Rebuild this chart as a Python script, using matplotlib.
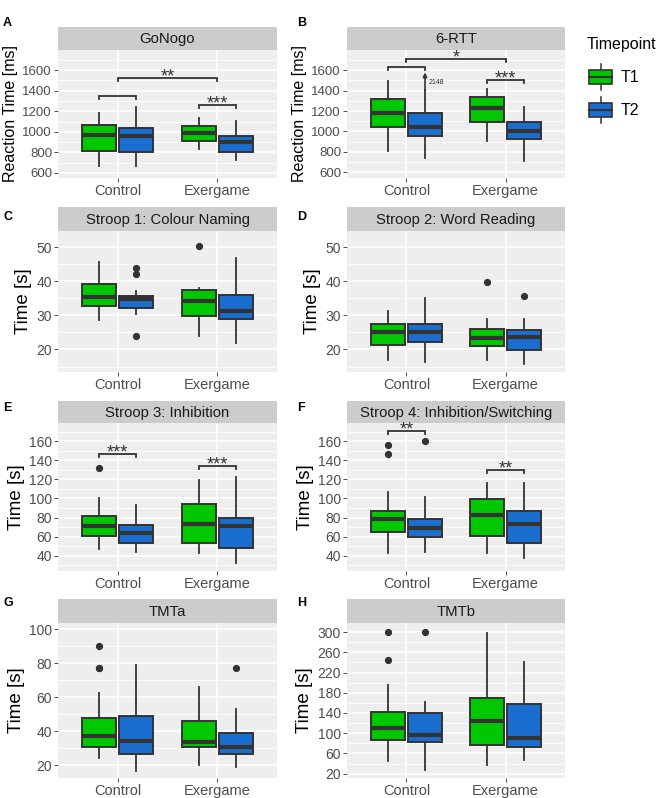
import matplotlib
matplotlib.use("Agg")
import matplotlib.pyplot as plt
from matplotlib.patches import Rectangle, Patch
from matplotlib.lines import Line2D
from matplotlib.legend_handler import HandlerBase
import numpy as np

plt.rcParams['font.family'] = ['Liberation Sans', 'DejaVu Sans']

# ---------------- data ----------------
groups = ["Control", "Exergame"]
timepoints = ["T1", "T2"]
colors = {"T1": "#00C800", "T2": "#1A6ECF"}

# box order: Control T1, Control T2, Exergame T1, Exergame T2
# each: [whisker low, Q1, median, Q3, whisker high]
gonogo_box = [[665, 812, 965, 1066, 1186], [665, 802, 958, 1033, 1242],
              [834, 909, 991, 1056, 1137], [724, 802, 900, 958, 1105]]
gonogo_out = [[], [], [], []]
gonogo_sig = [("Control", 1349, ""), ("Exergame", 1258, "***"), ("between", 1528, "**")]

rtt_box = [[811, 1044, 1176, 1314, 1495], [745, 952, 1044, 1176, 1406],
           [903, 1090, 1232, 1337, 1412], [712, 926, 1001, 1090, 1241]]
rtt_out = [[], [], [], []]
rtt_sig = [("Control", 1626, ""), ("Exergame", 1505, "***"), ("between", 1709, "*")]
rtt_offscale_value = 2148

stroop1_box = [[28.5, 32.7, 35.3, 39.3, 45.6], [30.5, 32.0, 34.7, 35.6, 37.2],
               [23.9, 29.7, 34.1, 37.3, 38.1], [22.0, 28.9, 31.4, 36.1, 46.8]]
stroop1_out = [[], [43.9, 42.2, 24.0], [50.3], []]
stroop1_sig = []

stroop2_box = [[16.8, 21.4, 25.1, 27.5, 31.2], [16.3, 22.3, 25.1, 27.5, 35.1],
               [16.8, 20.9, 23.3, 26.1, 28.8], [15.6, 19.7, 23.6, 25.8, 28.8]]
stroop2_out = [[], [], [39.7], [35.8]]
stroop2_sig = []

stroop3_box = [[46.7, 60.9, 70.8, 81.4, 100.9], [44.2, 53.1, 63.7, 71.9, 92.7],
               [42.5, 53.1, 73.6, 93.8, 119.6], [32.6, 47.8, 71.5, 79.6, 122.1]]
stroop3_out = [[132.0], [], [], []]
stroop3_sig = [("Control", 146.9, "***"), ("Exergame", 133.5, "***")]

stroop4_box = [[43.2, 64.4, 78.6, 87.4, 107.3], [44.2, 59.5, 69.0, 78.6, 101.9],
               [43.2, 61.2, 83.2, 99.1, 115.8], [37.2, 53.8, 73.3, 86.7, 115.8]]
stroop4_out = [[155.8, 146.5], [160.0], [], []]
stroop4_sig = [("Control", 171.0, "**"), ("Exergame", 130.3, "**")]

tmta_box = [[24.3, 31.1, 37.4, 47.7, 62.3], [16.9, 26.8, 34.4, 49.1, 78.9],
            [20.0, 31.1, 33.5, 46.3, 65.9], [19.0, 26.8, 30.7, 39.3, 53.0]]
tmta_out = [[90.4, 77.5, 77.0], [], [], [77.2]]
tmta_sig = []

tmtb_box = [[44.6, 86.4, 110.9, 142.1, 195.2], [28.0, 82.4, 95.6, 140.8, 162.7],
            [37.9, 76.4, 124.2, 170.6, 298.7], [47.9, 72.4, 91.0, 158.7, 241.6]]
tmtb_out = [[300.0, 245.6], [300.0], [], []]
tmtb_sig = []

# ---------------- layout (pixels) ----------------
W, H = 660, 798
fig = plt.figure(figsize=(W / 100, H / 100), dpi=100)

cols = [(58, 277), (347, 565)]
rows = [(27, 50, 178), (207, 231, 372), (401, 423, 571), (599, 623, 778)]
letter_y = [23.5, 216.5, 408.5, 603.5]

panels = [
    dict(letter="A", title="GoNogo", box=gonogo_box, out=gonogo_out, sig=gonogo_sig,
         ylim=(550, 1797), ticks=np.arange(600, 1601, 200), ylabel="Reaction Time [ms]", lab_fs=11.5, tick_fs=9.5),
    dict(letter="B", title="6-RTT", box=rtt_box, out=rtt_out, sig=rtt_sig,
         ylim=(545, 1797), ticks=np.arange(600, 1601, 200), ylabel="Reaction Time [ms]", lab_fs=11.5, tick_fs=9.5),
    dict(letter="C", title="Stroop 1: Colour Naming", box=stroop1_box, out=stroop1_out, sig=stroop1_sig,
         ylim=(13.4, 54.7), ticks=np.arange(20, 51, 10), ylabel="Time [s]", lab_fs=13.5, tick_fs=10),
    dict(letter="D", title="Stroop 2: Word Reading", box=stroop2_box, out=stroop2_out, sig=stroop2_sig,
         ylim=(13.4, 54.7), ticks=np.arange(20, 51, 10), ylabel="Time [s]", lab_fs=13.5, tick_fs=10),
    dict(letter="E", title="Stroop 3: Inhibition", box=stroop3_box, out=stroop3_out, sig=stroop3_sig,
         ylim=(24.1, 179), ticks=np.arange(40, 161, 20), ylabel="Time [s]", lab_fs=13.5, tick_fs=10),
    dict(letter="F", title="Stroop 4: Inhibition/Switching", box=stroop4_box, out=stroop4_out, sig=stroop4_sig,
         ylim=(24.1, 179), ticks=np.arange(40, 161, 20), ylabel="Time [s]", lab_fs=13.5, tick_fs=10),
    dict(letter="G", title="TMTa", box=tmta_box, out=tmta_out, sig=tmta_sig,
         ylim=(12.6, 103.7), ticks=np.arange(20, 101, 20), ylabel="Time [s]", lab_fs=13.5, tick_fs=10),
    dict(letter="H", title="TMTb", box=tmtb_box, out=tmtb_out, sig=tmtb_sig,
         ylim=(11.4, 318), ticks=np.arange(20, 301, 40), ylabel="Time [s]", lab_fs=13.5, tick_fs=10),
]

def px_rect(x0, y0, x1, y1):
    return [x0 / W, 1 - y1 / H, (x1 - x0) / W, (y1 - y0) / H]

DARK = "#333333"
dodge = 0.1875
bw = 0.34

for i, p in enumerate(panels):
    c0, c1 = cols[i % 2]
    s0, s1, b1 = rows[i // 2]
    sax = fig.add_axes(px_rect(c0, s0, c1, s1))
    sax.set_zorder(0)
    sax.set_facecolor("#CCCCCC")
    sax.set_xticks([]); sax.set_yticks([])
    for sp in sax.spines.values():
        sp.set_visible(False)
    sax.text(0.5, 0.47, p["title"], ha="center", va="center", fontsize=10.7, color="#1A1A1A",
             transform=sax.transAxes)

    ax = fig.add_axes(px_rect(c0, s1, c1, b1))
    ax.set_zorder(1)
    ax.set_facecolor("#EEEEEE")
    for sp in ax.spines.values():
        sp.set_visible(False)
    ax.set_xlim(0.4, 2.6)
    ax.set_ylim(*p["ylim"])
    ax.set_yticks(p["ticks"])
    step = p["ticks"][1] - p["ticks"][0]
    minors = np.arange(p["ticks"][0] - step / 2, p["ticks"][-1] + step, step)
    minors = minors[(minors > p["ylim"][0]) & (minors < p["ylim"][1])]
    ax.set_yticks(minors, minor=True)
    ax.set_xticks([1, 2])
    ax.set_xticklabels(groups)
    ax.tick_params(axis="both", which="major", length=2.8, width=0.6, color=DARK,
                   labelcolor="#4D4D4D", pad=1.5)
    ax.tick_params(axis="y", labelsize=p["tick_fs"])
    ax.tick_params(axis="x", labelsize=10.5)
    ax.tick_params(axis="y", which="minor", length=0)
    ax.grid(True, which="major", color="white", lw=1.1)
    ax.grid(True, which="minor", axis="y", color="white", lw=0.55)
    ax.set_axisbelow(True)
    ax.set_ylabel(p["ylabel"], fontsize=p["lab_fs"], color="black", labelpad=3)

    stats, positions, fcs = [], [], []
    for gi, g in enumerate(groups):
        for ti, t in enumerate(timepoints):
            k = gi * 2 + ti
            lo, q1, med, q3, hi = p["box"][k]
            stats.append(dict(whislo=lo, q1=q1, med=med, q3=q3, whishi=hi, fliers=p["out"][k]))
            positions.append(gi + 1 + (-dodge if ti == 0 else dodge))
            fcs.append(colors[t])
    bp = ax.bxp(stats, positions=positions, widths=bw, patch_artist=True, showcaps=False,
                boxprops=dict(edgecolor=DARK, linewidth=1.4),
                whiskerprops=dict(color=DARK, linewidth=1.3),
                medianprops=dict(color=DARK, linewidth=3.0),
                flierprops=dict(marker="o", markerfacecolor=DARK, markeredgecolor=DARK, markersize=4.2),
                manage_ticks=False)
    for patch, fc in zip(bp["boxes"], fcs):
        patch.set_facecolor(fc)

    # significance brackets
    ah = b1 - s1
    upp = (p["ylim"][1] - p["ylim"][0]) / ah   # data units per pixel
    tip = 3.0 * upp
    for where, yv, lab in p["sig"]:
        if where == "between":
            xa, xb = 1, 2
        else:
            gpos = groups.index(where) + 1
            xa, xb = gpos - dodge, gpos + dodge
        ax.plot([xa, xa, xb, xb], [yv - tip, yv, yv, yv - tip], color=DARK, lw=1.3,
                solid_joinstyle="miter", zorder=5)
        if lab:
            ax.text((xa + xb) / 2, yv - 3.5 * upp, lab, ha="center", va="baseline", fontsize=13,
                    color=DARK, zorder=6)

    if p["letter"] == "B":
        xt2 = 1 + dodge
        ax.annotate("", xy=(xt2, 1578), xytext=(xt2, 1400),
                    arrowprops=dict(arrowstyle="-|>", color=DARK, lw=1.2, mutation_scale=6,
                                    shrinkA=0, shrinkB=0))
        ax.text(xt2 + 0.04, 1478, str(rtt_offscale_value), fontsize=5, color=DARK,
                ha="left", va="center")

    lx = 3 if i % 2 == 0 else 297
    fig.text(lx / W, 1 - letter_y[i // 2] / H, p["letter"], fontsize=9, fontweight="bold",
             ha="left", va="center")

# ---------------- legend ----------------
class BoxHandler(HandlerBase):
    def create_artists(self, legend, orig_handle, xdescent, ydescent, width, height, fontsize, trans):
        x0, y0 = -xdescent, -ydescent
        cx = x0 + width / 2
        arts = [
            Line2D([cx, cx], [y0, y0 + 0.22 * height], color=DARK, lw=1.1, transform=trans),
            Line2D([cx, cx], [y0 + 0.78 * height, y0 + height], color=DARK, lw=1.1, transform=trans),
            Rectangle((x0, y0 + 0.22 * height), width, 0.56 * height, facecolor=orig_handle.get_facecolor(),
                      edgecolor=DARK, lw=1.2, transform=trans),
            Line2D([x0, x0 + width], [y0 + 0.5 * height] * 2, color=DARK, lw=1.6, transform=trans),
        ]
        return arts

fig.text(587 / W, 1 - 45 / H, "Timepoint", fontsize=11.5, ha="left", va="center")
handles = [Patch(facecolor=colors[t], label=t) for t in timepoints]
leg = fig.legend(handles=handles, labels=timepoints, handler_map={Patch: BoxHandler()},
                 loc="upper left", bbox_to_anchor=(589 / W, 1 - 64 / H), frameon=False,
                 fontsize=11.5, handlelength=1.44, handleheight=2.15, labelspacing=0.42,
                 handletextpad=0.56, borderaxespad=0, borderpad=0)

fig.savefig("out.png", dpi=100)
